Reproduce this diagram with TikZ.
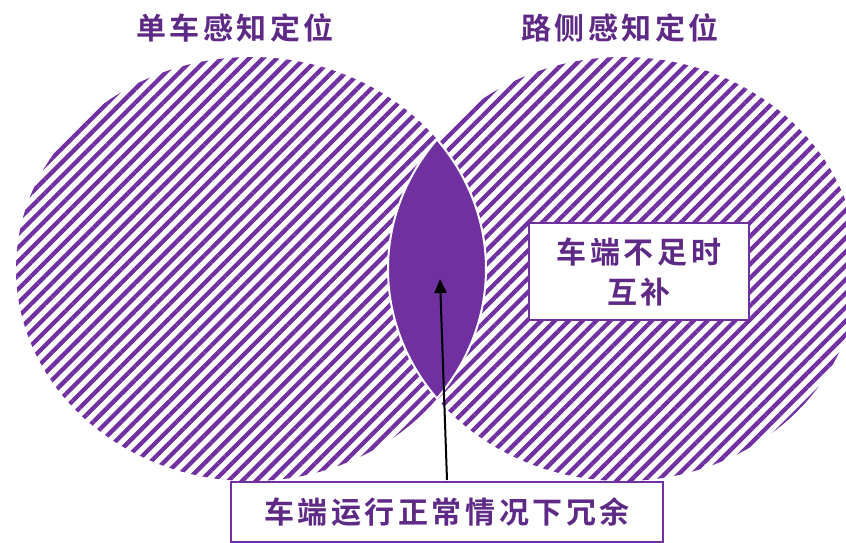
\documentclass[tikz,border=0pt]{standalone}
\usepackage{fontspec}
\newfontfamily\cjk{Noto Sans CJK SC Bold}[LetterSpace=12]
\usetikzlibrary{patterns.meta,arrows.meta}
\definecolor{purp}{HTML}{7030A0}
\definecolor{txtp}{HTML}{5E2A86}
\tikzset{
  lbl/.style={text=txtp,font=\cjk\fontsize{30}{38}\selectfont},
  boxed/.style={draw=purp,line width=2pt,fill=white,inner sep=0pt},
  hatch/.style={pattern={Lines[angle=45,distance=9.8pt,line width=4.3pt]},pattern color=purp},
}
\begin{document}
\begin{tikzpicture}[x=1pt,y=-1pt]
\useasboundingbox (0,0) rectangle (846,543);
% circles
\path[hatch] (251,269) ellipse [x radius=235,y radius=212];
\path[hatch] (623,269) ellipse [x radius=235,y radius=212];
% lens
\begin{scope}
\clip (251,269) ellipse [x radius=235,y radius=212];
\fill[purp] (623,269) ellipse [x radius=235,y radius=212];
\draw[white,line width=2pt] (623,269) ellipse [x radius=235,y radius=212];
\end{scope}
\begin{scope}
\clip (623,269) ellipse [x radius=235,y radius=212];
\draw[white,line width=2pt] (251,269) ellipse [x radius=235,y radius=212];
\end{scope}
% titles
\node[lbl] (t1) at (235,28) {单车感知定位};
\node[lbl] (t2) at (620,28) {路侧感知定位};
% boxes
\node[boxed,minimum width=220,minimum height=97] (b1) at (639,271.5) {};
\node[lbl,align=center] (b1t) at (b1.center) {车端不足时\\[2pt]互补};
\node[boxed,minimum width=432,minimum height=60] (b2) at (447,512) {};
\node[lbl] (b2t) at (b2.center) {车端运行正常情况下冗余};
\coordinate (tip) at (440,279);
\draw[line width=2pt,-{Triangle[length=14pt,width=12pt]}] (b2.north) ++(0,-1) -- (tip);
\end{tikzpicture}
\end{document}
